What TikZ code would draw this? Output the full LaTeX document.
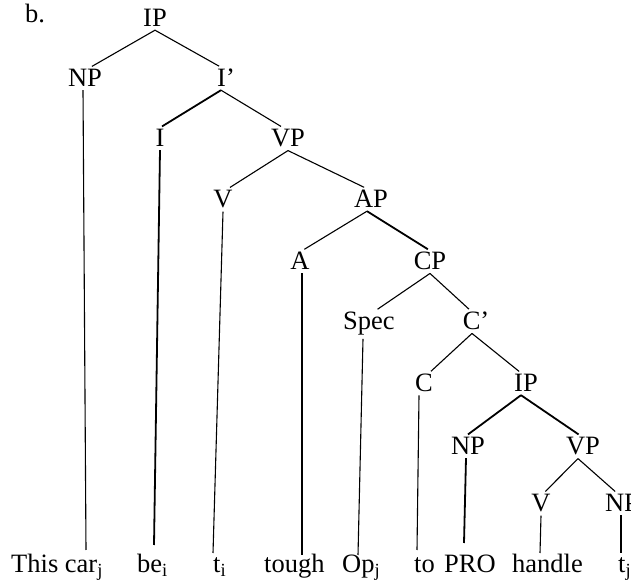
\documentclass[tikz,border=0pt]{standalone}
\usepackage{fontspec}
\setmainfont{Liberation Serif}
\begin{document}
\begin{tikzpicture}[x=1pt,y=1pt,
  lab/.style={anchor=base,inner sep=3pt,font=\fontsize{26.5}{31}\selectfont},
  wrd/.style={anchor=base west,inner sep=0pt,font=\fontsize{26.5}{31}\selectfont},
  br/.style={line width=1.1pt},
  thk/.style={line width=1.8pt}]
\useasboundingbox (0,0) rectangle (631,585);
% labels
\node[wrd] (b) at (25,562) {b.};
\node[lab] (IPa) at (155,558) {IP};
\node[lab] (NPa) at (85,498) {NP};
\node[lab] (Ib) at (226,498) {I’};
\node[lab] (I) at (160,438) {I};
\node[lab] (VPa) at (288,438) {VP};
\node[lab] (Va) at (223,377) {V};
\node[lab] (AP) at (371,377) {AP};
\node[lab] (A) at (300,315) {A};
\node[lab] (CP) at (430,315) {CP};
\node[lab] (Spec) at (369,255) {Spec};
\node[lab] (Cb) at (476,255) {C’};
\node[lab] (C) at (424,193) {C};
\node[lab] (IPb) at (526,193) {IP};
\node[lab] (NPb) at (468,130) {NP};
\node[lab] (VPb) at (583,130) {VP};
\node[lab] (Vb) at (541,73) {V};
\node[lab] (NPc) at (622,73) {NP};
% words
\node[wrd] (w1) at (11,12) {This car\textsubscript{j}};
\node[wrd] (w2) at (137,12) {be\textsubscript{i}};
\node[wrd] (w3) at (213,12) {t\textsubscript{i}};
\node[wrd] (w4) at (264,12) {tough};
\node[wrd] (w5) at (342,12) {Op\textsubscript{j}};
\node[wrd] (w6) at (414,12) {to};
\node[wrd] (w7) at (444,12) {PRO};
\node[wrd] (w8) at (512,12) {handle};
\node[wrd] (w9) at (618,12) {t\textsubscript{j}};
% line ends above words
\coordinate (e1) at (86,35);
\coordinate (e2) at (154,40);
\coordinate (e3) at (213,32);
\coordinate (e4) at (302,30);
\coordinate (e5) at (358,30);
\coordinate (e6) at (417,35);
\coordinate (e7) at (464,42);
\coordinate (e8) at (540,32);
\coordinate (e9) at (621,32);
% branches
\draw[br] (IPa.south) -- (NPa.60);
\draw[br] (IPa.south) -- (Ib.120);
\draw[thk] ([xshift=-5pt]Ib.south) -- ([xshift=2pt]I.north);
\draw[br] ([xshift=-5pt]Ib.south) -- (VPa.120);
\draw[br] (VPa.south) -- (Va.60);
\draw[br] (VPa.south) -- (AP.120);
\draw[br] ([xshift=-4pt]AP.south) -- (A.70);
\draw[thk] ([xshift=-4pt]AP.south) -- (CP.100);
\draw[br] (CP.south) -- (Spec.60);
\draw[br] (CP.south) -- (Cb.120);
\draw[br] ([xshift=-4pt]Cb.south) -- (C.60);
\draw[br] ([xshift=-4pt]Cb.south) -- (IPb.120);
\draw[thk] ([xshift=-5pt]IPb.south) -- (NPb.north);
\draw[thk] ([xshift=-5pt]IPb.south) -- (VPb.110);
\draw[br] ([xshift=-5pt]VPb.south) -- (Vb.70);
\draw[br] ([xshift=-5pt]VPb.south) -- (NPc.120);
% vertical lines to words
\draw[br] ([xshift=-2pt]NPa.south) -- (e1);
\draw[thk] (I.south) -- (e2);
\draw[br] (Va.south) -- (e3);
\draw[br] ([xshift=2pt]A.south) -- (e4);
\draw[br] ([xshift=-6pt]Spec.south) -- (e5);
\draw[br] ([xshift=-5pt]C.south) -- (e6);
\draw[thk] ([xshift=-2pt]NPb.south) -- (e7);
\draw[br] (Vb.south) -- (e8);
\draw[br] ([xshift=-1pt]NPc.south) -- (e9);
\end{tikzpicture}
\end{document}
